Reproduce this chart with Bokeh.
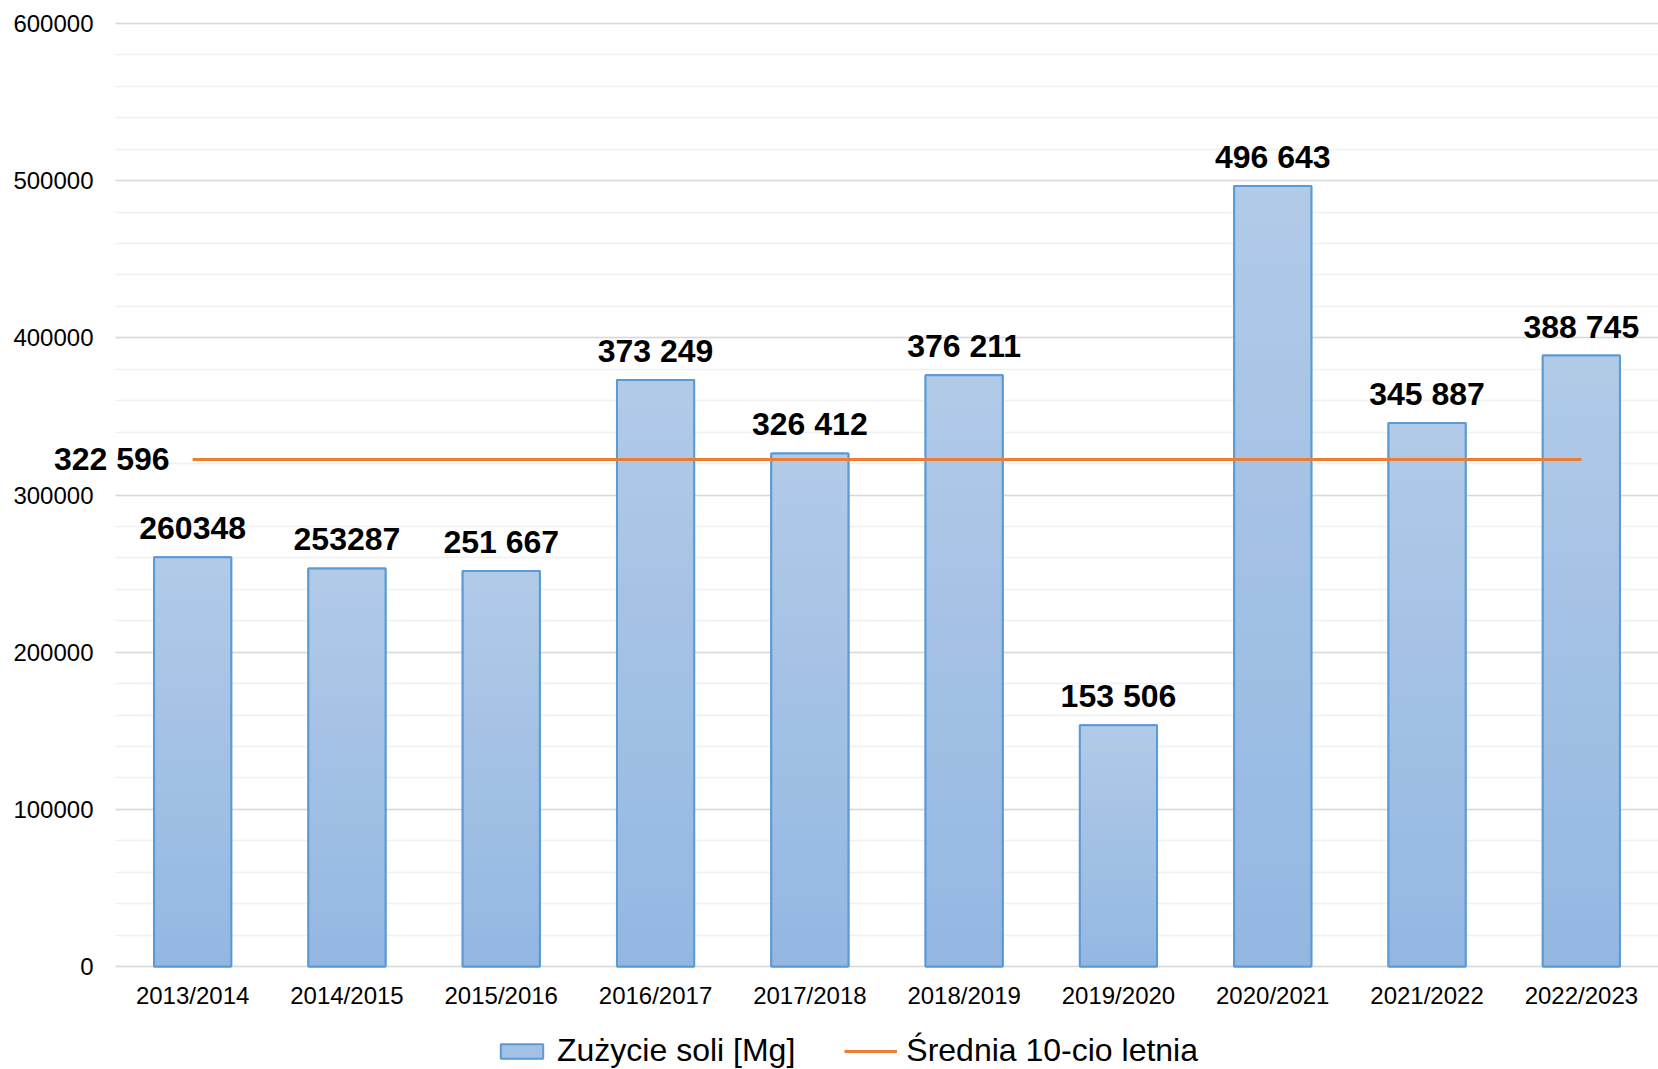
from bokeh.plotting import figure
from bokeh.models import (Range1d, FixedTicker, Legend, LegendItem,
                          Label, ColumnDataSource, NumeralTickFormatter, BoxAnnotation)
from bokeh.core.properties import value
from bokeh.embed import file_html
from bokeh.resources import INLINE

seasons = ["2013/2014", "2014/2015", "2015/2016", "2016/2017", "2017/2018",
           "2018/2019", "2019/2020", "2020/2021", "2021/2022", "2022/2023"]
usage = [260348, 253287, 251667, 373249, 326412, 376211, 153506, 496643, 345887, 388745]
usage_labels = ["260348", "253287", "251 667", "373 249", "326 412", "376 211",
                "153 506", "496 643", "345 887", "388 745"]
average = 322596
average_label = "322 596"
y_major_ticks = [0, 100000, 200000, 300000, 400000, 500000, 600000]
y_minor_ticks = [20000 * i for i in range(31)]

FONT = "Liberation Sans"
xs = [i + 0.5 for i in range(len(seasons))]

W, H = 1658, 1069
X0 = 115      # px of the plot-area left edge
Y0 = 966      # px of the zero line
YTOP = 23     # px of the 600000 line
cat_px = (W - X0) / len(seasons)
unit_px = (Y0 - YTOP) / 600000

p = figure(width=W, height=H, output_backend="svg", toolbar_location=None,
           x_range=Range1d(-X0 / cat_px, len(seasons)),
           y_range=Range1d(-(H - Y0) / unit_px, 600000 + YTOP / unit_px),
           min_border=0, min_border_left=0, min_border_right=0,
           min_border_top=0, min_border_bottom=0)
p.outline_line_color = None
p.background_fill_color = "white"

# base bar (also used as legend glyph)
base = p.vbar(x=xs, top=usage, bottom=0, width=0.5, fill_color="#a3c1e5",
              line_color="#5b9bd5", line_width=2)

# gradient: layered vbars from full height down, light at top -> dark at bottom
N = 40
top_c = (0xB1, 0xCA, 0xE8)
bot_c = (0x93, 0xB7, 0xE2)
for k in range(N):
    frac = (N - k) / N
    c = tuple(int(round(bot_c[j] + (top_c[j] - bot_c[j]) * frac)) for j in range(3))
    col = "#%02x%02x%02x" % c
    p.vbar(x=xs, top=[v * frac for v in usage], bottom=0, width=0.5,
           fill_color=col, line_color=None)

# outline on top
p.vbar(x=xs, top=usage, bottom=0, width=0.5, fill_color=None,
       line_color="#5b9bd5", line_width=2)

avg_line = p.line(x=[xs[0], xs[-1]], y=[average, average], line_color="#ed7d31", line_width=3)

src = ColumnDataSource(dict(x=xs, y=usage, t=usage_labels))
p.text(x="x", y="y", text="t", source=src, text_align="center", text_baseline="alphabetic",
       y_offset=-29, text_font=value(FONT), text_font_style="bold",
       text_font_size="32px", text_color="#000000")

p.add_layout(Label(x=xs[0], y=average, text=average_label, text_align="right",
                   text_baseline="middle", x_offset=-23, text_font=FONT,
                   text_font_style="bold", text_font_size="32px", text_color="#000000"))

# mask grid lines left of the plot area
p.add_layout(BoxAnnotation(right=0, fill_color="white", fill_alpha=1.0, line_color=None,
                           level="underlay"))

# axes
p.xaxis.fixed_location = 0
p.xaxis.ticker = FixedTicker(ticks=xs)
p.xaxis.major_label_overrides = {x: s for x, s in zip(xs, seasons)}
p.xaxis.major_label_text_font = FONT
p.xaxis.major_label_text_font_size = "24px"
p.xaxis.major_label_text_color = "#000000"
p.xaxis.major_tick_line_color = None
p.xaxis.major_tick_out = 0
p.xaxis.major_tick_in = 0
p.xaxis.minor_tick_line_color = None
p.xaxis.axis_line_color = None
p.xaxis.major_label_standoff = 15

p.yaxis.fixed_location = 0
p.yaxis.ticker = FixedTicker(ticks=y_major_ticks, minor_ticks=y_minor_ticks)
p.yaxis.formatter = NumeralTickFormatter(format="0")
p.yaxis.major_label_text_font = FONT
p.yaxis.major_label_text_font_size = "24px"
p.yaxis.major_label_text_color = "#000000"
p.yaxis.major_tick_line_color = None
p.yaxis.major_tick_out = 0
p.yaxis.major_tick_in = 0
p.yaxis.minor_tick_line_color = None
p.yaxis.axis_line_color = None
p.yaxis.major_label_standoff = 18

p.xgrid.grid_line_color = None
p.ygrid.grid_line_color = "#d9d9d9"
p.ygrid.grid_line_width = 1.5
p.ygrid.minor_grid_line_color = "#f0f0f0"
p.ygrid.minor_grid_line_width = 1.5

legend = Legend(items=[LegendItem(label="Zużycie soli [Mg]", renderers=[base]),
                       LegendItem(label="Średnia 10-cio letnia", renderers=[avg_line])],
                orientation="horizontal", location=(495, 0),
                label_text_font=FONT, label_text_font_size="32px",
                label_text_color="#000000", glyph_width=53, glyph_height=18,
                label_standoff=9, spacing=49, padding=0, margin=0,
                border_line_color=None, background_fill_alpha=0)
p.add_layout(legend, "center")

open("out.html", "w").write(file_html(p, INLINE))
